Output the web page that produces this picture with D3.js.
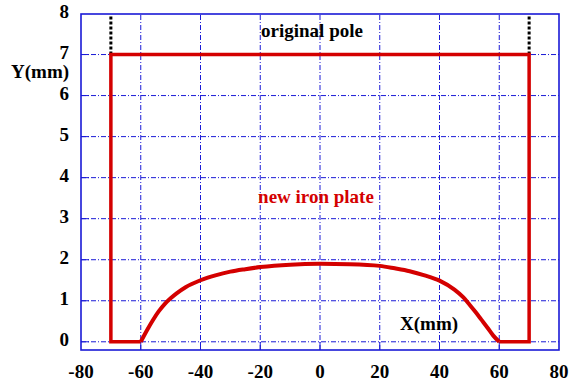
<!DOCTYPE html>
<html>
<head>
<meta charset="utf-8">
<script src="https://cdn.jsdelivr.net/npm/d3@7"></script>
<style>
  body { margin: 0; background: #fff; }
</style>
</head>
<body>
<div id="body"></div>
<script>
// data
var xTicks = [-80, -60, -40, -20, 0, 20, 40, 60, 80];
var yTicks = [0, 1, 2, 3, 4, 5, 6, 7, 8];
// new iron plate outline (mm)
var plateX = [-70, 70];
var plateTop = 7;
var poleTop = 8;
var flatX = [-70, -60, 60, 70];
var curveX = [-60, -58, -56, -54, -52, -50, -48, -45, -40, -35, -30, -25, -20, -10, 0, 10, 20, 25, 30, 35, 40, 45, 48, 50, 52, 54, 56, 58, 60];
var curveY = [0, 0.27, 0.52, 0.74, 0.92, 1.06, 1.18, 1.33, 1.50, 1.62, 1.71, 1.77, 1.82, 1.88, 1.90, 1.89, 1.85, 1.79, 1.72, 1.62, 1.49, 1.27, 1.08, 0.91, 0.73, 0.54, 0.35, 0.15, 0];

var width = 572, height = 385;
var plotLeft = 81, plotRight = 559, plotTop = 14, plotBottom = 350;
var serif = '"Liberation Serif", "Times New Roman", Times, serif';

function makeChart () {
  var svg = d3.select('#body')
    .append('svg')
    .attr('width', width)
    .attr('height', height)
    .attr('font-family', serif)
    .attr('font-weight', 'bold');

  var x = d3.scaleLinear().domain([-80, 80]).range([plotLeft, plotRight]);
  var y = d3.scaleLinear().domain([-0.2, 8]).range([plotBottom, plotTop - 0.5]);

  var blue = '#1a1ad6';

  // grid lines (dash-dot)
  svg.append('g').selectAll('line')
    .data(xTicks.slice(1, -1))
    .enter().append('line')
    .attr('x1', function(d) { return x(d); })
    .attr('x2', function(d) { return x(d); })
    .attr('y1', plotBottom)
    .attr('y2', plotTop)
    .style('stroke', blue)
    .style('stroke-width', 1)
    .style('stroke-dasharray', '5,2,1,2');

  svg.append('g').selectAll('line')
    .data(yTicks.slice(0, -1))
    .enter().append('line')
    .attr('x1', plotLeft)
    .attr('x2', plotRight)
    .attr('y1', function(d) { return y(d); })
    .attr('y2', function(d) { return y(d); })
    .style('stroke', blue)
    .style('stroke-width', 1)
    .style('stroke-dasharray', '5,2,1,2');

  // small solid ticks on the frame
  svg.append('g').selectAll('line')
    .data(yTicks.slice(0, -1))
    .enter().append('line')
    .attr('x1', plotLeft)
    .attr('x2', plotLeft + 8)
    .attr('y1', function(d) { return y(d); })
    .attr('y2', function(d) { return y(d); })
    .style('stroke', blue)
    .style('stroke-width', 1);

  svg.append('g').selectAll('line')
    .data(xTicks.slice(1, -1))
    .enter().append('line')
    .attr('x1', function(d) { return x(d); })
    .attr('x2', function(d) { return x(d); })
    .attr('y1', plotBottom)
    .attr('y2', plotBottom - 8)
    .style('stroke', blue)
    .style('stroke-width', 1);

  // frame
  svg.append('rect')
    .attr('x', plotLeft)
    .attr('y', plotTop)
    .attr('width', plotRight - plotLeft)
    .attr('height', plotBottom - plotTop)
    .style('fill', 'none')
    .style('stroke', blue)
    .style('stroke-width', 1.6);

  // tick labels
  svg.append('g').selectAll('text')
    .data(xTicks)
    .enter().append('text')
    .attr('x', function(d) { return x(d); })
    .attr('y', 378)
    .attr('text-anchor', 'middle')
    .attr('font-size', 19)
    .text(function(d) { return d; });

  svg.append('g').selectAll('text')
    .data(yTicks)
    .enter().append('text')
    .attr('x', 69)
    .attr('y', function(d) { return y(d) + 4.5; })
    .attr('text-anchor', 'end')
    .attr('font-size', 19)
    .text(function(d) { return d; });

  // original pole edges (dotted black)
  svg.append('g').selectAll('line')
    .data(plateX)
    .enter().append('line')
    .attr('x1', function(d) { return x(d); })
    .attr('x2', function(d) { return x(d); })
    .attr('y1', y(plateTop))
    .attr('y2', y(poleTop) + 3)
    .style('stroke', '#000')
    .style('stroke-width', 3)
    .style('stroke-dasharray', '3,2');

  // new iron plate outline
  var red = '#d40000';
  var outline = [[flatX[1], 0], [flatX[0], 0], [flatX[0], plateTop], [flatX[3], plateTop], [flatX[3], 0], [flatX[2], 0]];
  var line = d3.line()
    .x(function(d) { return x(d[0]); })
    .y(function(d) { return y(d[1]); });

  svg.append('path')
    .attr('d', line(outline))
    .style('fill', 'none')
    .style('stroke', red)
    .style('stroke-width', 3.5);

  var curve = d3.line()
    .x(function(d) { return x(d[0]); })
    .y(function(d) { return y(d[1]); })
    .curve(d3.curveMonotoneX);

  svg.append('path')
    .attr('d', curve(d3.zip(curveX, curveY)))
    .style('fill', 'none')
    .style('stroke', red)
    .style('stroke-width', 4);

  // labels
  svg.append('text')
    .attr('x', 11).attr('y', 78)
    .attr('font-size', 19)
    .text('Y(mm)');

  svg.append('text')
    .attr('x', 400).attr('y', 330)
    .attr('font-size', 19)
    .text('X(mm)');

  svg.append('text')
    .attr('x', 312).attr('y', 37)
    .attr('text-anchor', 'middle')
    .attr('font-size', 19)
    .text('original pole');

  svg.append('text')
    .attr('x', 316).attr('y', 203)
    .attr('text-anchor', 'middle')
    .attr('font-size', 19)
    .style('fill', red)
    .text('new iron plate');
}

makeChart();
</script>
</body>
</html>
